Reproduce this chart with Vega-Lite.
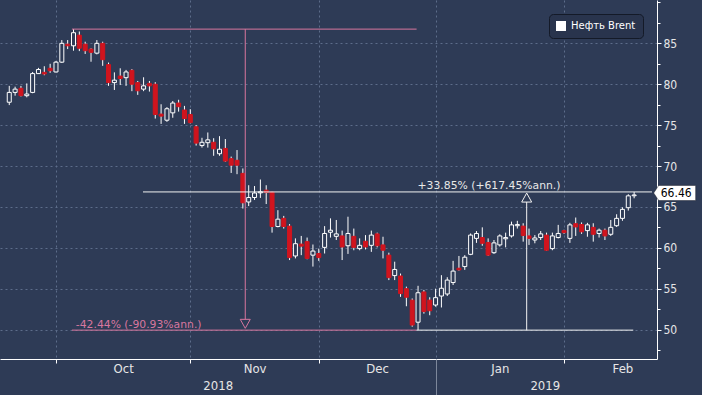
{
  "$schema": "https://vega.github.io/schema/vega-lite/v6.json",
  "width": 657,
  "height": 359,
  "padding": {"left": 0, "top": 0, "right": 45, "bottom": 36},
  "autosize": {"type": "none"},
  "background": "#2e3b56",
  "config": {
    "view": {"stroke": null, "fill": "#2e3b56"},
    "legend": {
      "orient": "none", "legendX": 549, "legendY": 14, "fillColor": "#29344d", "strokeColor": "#141a28",
      "cornerRadius": 4, "padding": 7, "symbolType": "square", "symbolSize": 100,
      "symbolFillColor": "#ffffff", "symbolStrokeColor": "#ffffff", "symbolStrokeWidth": 0,
      "labelColor": "#ffffff", "labelFont": "DejaVu Sans", "labelFontSize": 10, "labelOffset": 5
    }
  },
  "resolve": {"axis": {"x": "independent", "y": "independent"}},
  "datasets": {
    "candles": [
      {"i":0,"o":77.8,"h":79.8,"l":77.45,"c":79.0},
      {"i":1,"o":79.0,"h":79.7,"l":78.6,"c":79.4},
      {"i":2,"o":79.5,"h":79.8,"l":78.5,"c":78.6},
      {"i":3,"o":78.6,"h":80.1,"l":78.4,"c":78.8},
      {"i":4,"o":79.0,"h":81.5,"l":78.9,"c":81.3},
      {"i":5,"o":81.3,"h":82.0,"l":81.25,"c":81.8},
      {"i":6,"o":81.45,"h":82.2,"l":81.1,"c":81.25},
      {"i":7,"o":81.95,"h":82.5,"l":81.4,"c":81.65},
      {"i":8,"o":81.5,"h":82.85,"l":81.45,"c":82.7},
      {"i":9,"o":82.7,"h":85.4,"l":82.6,"c":85.0},
      {"i":10,"o":84.9,"h":85.4,"l":84.3,"c":84.7},
      {"i":11,"o":84.7,"h":86.74,"l":84.1,"c":86.3},
      {"i":12,"o":86.0,"h":86.45,"l":84.05,"c":84.4},
      {"i":13,"o":84.9,"h":85.2,"l":83.7,"c":84.1},
      {"i":14,"o":84.3,"h":84.4,"l":82.75,"c":83.9},
      {"i":15,"o":83.8,"h":85.4,"l":83.65,"c":85.0},
      {"i":16,"o":85.0,"h":85.2,"l":82.25,"c":83.0},
      {"i":17,"o":82.4,"h":82.65,"l":79.8,"c":80.2},
      {"i":18,"o":80.2,"h":81.45,"l":79.3,"c":80.5},
      {"i":19,"o":81.0,"h":81.95,"l":79.9,"c":80.7},
      {"i":20,"o":80.8,"h":81.75,"l":79.8,"c":81.5},
      {"i":21,"o":81.7,"h":81.85,"l":79.15,"c":80.0},
      {"i":22,"o":80.2,"h":80.4,"l":78.7,"c":79.2},
      {"i":23,"o":79.4,"h":80.85,"l":79.15,"c":79.8},
      {"i":24,"o":80.1,"h":80.4,"l":79.1,"c":79.8},
      {"i":25,"o":80.0,"h":80.25,"l":75.8,"c":76.3},
      {"i":26,"o":76.35,"h":77.55,"l":75.15,"c":76.1},
      {"i":27,"o":75.6,"h":77.2,"l":75.4,"c":77.0},
      {"i":28,"o":76.5,"h":77.95,"l":75.9,"c":77.7},
      {"i":29,"o":77.7,"h":78.1,"l":76.65,"c":77.25},
      {"i":30,"o":76.85,"h":77.35,"l":75.15,"c":75.8},
      {"i":31,"o":76.3,"h":76.95,"l":75.2,"c":75.3},
      {"i":32,"o":74.8,"h":75.0,"l":72.5,"c":72.8},
      {"i":33,"o":72.5,"h":73.45,"l":72.25,"c":72.9},
      {"i":34,"o":72.85,"h":74.1,"l":72.25,"c":73.2},
      {"i":35,"o":72.9,"h":73.4,"l":71.25,"c":72.1},
      {"i":36,"o":71.5,"h":73.65,"l":71.25,"c":72.05},
      {"i":37,"o":72.15,"h":73.3,"l":70.5,"c":70.6},
      {"i":38,"o":70.9,"h":71.15,"l":69.15,"c":70.1},
      {"i":39,"o":70.7,"h":71.95,"l":69.0,"c":70.1},
      {"i":40,"o":69.1,"h":69.7,"l":64.8,"c":65.5},
      {"i":41,"o":65.6,"h":67.65,"l":65.1,"c":66.15},
      {"i":42,"o":66.15,"h":67.55,"l":65.85,"c":66.7},
      {"i":43,"o":66.72,"h":68.35,"l":66.1,"c":66.85},
      {"i":44,"o":67.05,"h":67.65,"l":65.35,"c":66.75},
      {"i":45,"o":66.8,"h":66.85,"l":61.85,"c":62.6},
      {"i":46,"o":62.6,"h":64.6,"l":62.5,"c":63.5},
      {"i":47,"o":63.6,"h":63.9,"l":62.35,"c":62.6},
      {"i":48,"o":62.65,"h":62.9,"l":58.5,"c":58.8},
      {"i":49,"o":59.0,"h":61.15,"l":58.7,"c":60.5},
      {"i":50,"o":60.45,"h":61.45,"l":59.1,"c":60.2},
      {"i":51,"o":60.75,"h":61.25,"l":58.6,"c":58.7},
      {"i":52,"o":59.1,"h":60.4,"l":57.7,"c":59.6},
      {"i":53,"o":59.3,"h":59.9,"l":58.4,"c":58.8},
      {"i":54,"o":60.05,"h":62.65,"l":59.3,"c":61.75},
      {"i":55,"o":61.9,"h":63.6,"l":61.25,"c":62.15},
      {"i":56,"o":61.4,"h":63.4,"l":60.95,"c":61.7},
      {"i":57,"o":61.45,"h":62.1,"l":58.5,"c":60.1},
      {"i":58,"o":60.25,"h":63.8,"l":59.25,"c":61.75},
      {"i":59,"o":61.4,"h":62.35,"l":59.7,"c":60.05},
      {"i":60,"o":59.9,"h":61.15,"l":59.7,"c":60.3},
      {"i":61,"o":60.8,"h":61.55,"l":59.8,"c":60.1},
      {"i":62,"o":60.3,"h":62.1,"l":59.5,"c":61.55},
      {"i":63,"o":61.7,"h":61.85,"l":60.05,"c":60.25},
      {"i":64,"o":60.35,"h":61.35,"l":58.7,"c":59.7},
      {"i":65,"o":59.1,"h":59.4,"l":56.05,"c":56.35},
      {"i":66,"o":56.6,"h":58.3,"l":56.05,"c":57.35},
      {"i":67,"o":56.55,"h":56.85,"l":54.0,"c":54.4},
      {"i":68,"o":55.0,"h":55.25,"l":52.85,"c":53.95},
      {"i":69,"o":53.6,"h":53.8,"l":50.35,"c":50.55},
      {"i":70,"o":50.9,"h":55.35,"l":49.93,"c":54.5},
      {"i":71,"o":54.6,"h":54.85,"l":51.95,"c":52.2},
      {"i":72,"o":53.6,"h":53.95,"l":51.75,"c":52.3},
      {"i":73,"o":53.0,"h":55.0,"l":52.8,"c":53.9},
      {"i":74,"o":54.1,"h":56.65,"l":52.7,"c":55.05},
      {"i":75,"o":54.35,"h":56.4,"l":54.1,"c":56.05},
      {"i":76,"o":55.75,"h":58.4,"l":55.45,"c":57.15},
      {"i":77,"o":57.5,"h":59.0,"l":57.2,"c":57.3},
      {"i":78,"o":57.7,"h":59.1,"l":57.3,"c":58.85},
      {"i":79,"o":59.2,"h":61.75,"l":59.1,"c":61.55},
      {"i":80,"o":61.15,"h":62.05,"l":60.6,"c":61.75},
      {"i":81,"o":61.25,"h":62.5,"l":60.25,"c":60.55},
      {"i":82,"o":60.65,"h":61.15,"l":59.0,"c":59.1},
      {"i":83,"o":59.4,"h":60.95,"l":59.25,"c":60.6},
      {"i":84,"o":60.35,"h":61.65,"l":60.15,"c":61.45},
      {"i":85,"o":61.1,"h":61.85,"l":60.05,"c":61.25},
      {"i":86,"o":61.45,"h":63.2,"l":61.25,"c":62.8},
      {"i":87,"o":62.7,"h":63.3,"l":62.35,"c":62.85},
      {"i":88,"o":62.65,"h":63.0,"l":60.75,"c":61.5},
      {"i":89,"o":61.45,"h":62.35,"l":60.35,"c":61.15},
      {"i":90,"o":60.95,"h":61.55,"l":60.55,"c":61.2},
      {"i":91,"o":61.25,"h":62.05,"l":60.95,"c":61.7},
      {"i":92,"o":61.55,"h":61.85,"l":59.65,"c":59.7},
      {"i":93,"o":59.9,"h":61.85,"l":59.7,"c":61.45},
      {"i":94,"o":61.25,"h":62.8,"l":61.15,"c":61.75},
      {"i":95,"o":62.1,"h":62.2,"l":61.7,"c":61.85},
      {"i":96,"o":61.15,"h":63.05,"l":60.6,"c":62.8},
      {"i":97,"o":62.95,"h":63.7,"l":61.45,"c":62.55},
      {"i":98,"o":62.85,"h":63.1,"l":61.7,"c":61.95},
      {"i":99,"o":62.1,"h":63.05,"l":61.35,"c":62.8},
      {"i":100,"o":62.5,"h":63.0,"l":60.75,"c":61.65},
      {"i":101,"o":61.75,"h":62.35,"l":61.25,"c":62.15},
      {"i":102,"o":62.15,"h":62.35,"l":60.95,"c":61.45},
      {"i":103,"o":61.65,"h":63.4,"l":61.45,"c":62.5},
      {"i":104,"o":62.7,"h":64.1,"l":62.55,"c":63.6},
      {"i":105,"o":63.6,"h":64.95,"l":63.3,"c":64.7},
      {"i":106,"o":64.9,"h":66.55,"l":64.55,"c":66.35},
      {"i":107,"o":66.36,"h":66.83,"l":66.05,"c":66.46}
    ],
    "pinkLines": [
      {"i":10.73,"i2":69.75,"v":86.74,"v2":86.74},
      {"i":10.73,"i2":69.75,"v":49.93,"v2":49.93},
      {"i":40.41,"i2":40.41,"v":86.74,"v2":50.7}
    ],
    "whiteLines": [
      {"i":22.9,"i2":110.06,"v":66.83,"v2":66.83},
      {"i":69.75,"i2":106.85,"v":49.93,"v2":49.93},
      {"i":88.6,"i2":88.6,"v":49.93,"v2":66.14}
    ],
    "pinkArrow": [{"i":40.41,"v":50.7}],
    "whiteArrow": [{"i":88.6,"v":66.14}],
    "pinkText": [{"i":11.4,"v":50.25,"t":"-42.44% (-90.93%ann.)"}],
    "whiteText": [{"i":82.15,"v":67.18,"t":"+33.85% (+617.45%ann.)"}],
    "lastBox": [{"i":113.94,"v":66.7}],
    "lastText": [{"i":114.2,"v":66.7,"t":"66.46"}]
  },
  "layer": [
    {
      "data": {"name": "candles"},
      "mark": {"type": "rule", "strokeWidth": 1},
      "encoding": {
        "x": {
          "field": "i", "type": "quantitative", "title": null,
          "scale": {"domain": [-0.73, 110.06], "nice": false, "zero": false},
          "axis": {
            "orient": "bottom", "title": null, "values": [8, 31, 53, 95], "labels": false,
            "domainColor": "#ffffff", "domainWidth": 1, "tickColor": "#ffffff", "tickSize": 4,
            "grid": true, "gridColor": "#5d6d8a", "gridDash": [2, 3]
          }
        },
        "y": {
          "field": "l", "type": "quantitative", "title": null,
          "scale": {"domain": [46.4, 90.3], "nice": false, "zero": false},
          "axis": {
            "orient": "right", "title": null, "values": [50, 55, 60, 65, 70, 75, 80, 85],
            "labelOverlap": false, "labelColor": "#e6e6e6", "labelFont": "DejaVu Sans Condensed, Roboto, sans-serif", "labelFontSize": 12,
            "labelPadding": 2, "domainColor": "#ffffff", "domainWidth": 1, "tickColor": "#ffffff", "tickSize": 4,
            "grid": true, "gridColor": "#5d6d8a", "gridDash": [2, 3]
          }
        },
        "y2": {"field": "h"},
        "color": {"datum": "Нефть Brent", "scale": {"range": ["#ffffff"]}, "legend": {"title": null}}
      }
    },
    {
      "data": {"name": "candles"},
      "mark": {"type": "bar", "width": 4, "strokeWidth": 1},
      "encoding": {
        "x": {
          "field": "i", "type": "quantitative", "title": null,
          "axis": {
            "orient": "bottom", "title": null, "values": [19.5, 35.7, 42, 63, 84, 91.7, 105],
            "labelExpr": "datum.value === 19.5 ? 'Oct' : datum.value === 42 ? 'Nov' : datum.value === 63 ? 'Dec' : datum.value === 84 ? 'Jan' : datum.value === 105 ? 'Feb' : datum.value === 35.7 ? ['', '2018'] : ['', '2019']",
            "labelFlush": false, "labelOverlap": false, "labelAlign": "center", "labelBaseline": "top",
            "labelColor": "#e6e6e6", "labelFont": "DejaVu Sans Condensed, Roboto, sans-serif", "labelFontSize": 13, "labelLineHeight": 17,
            "labelPadding": 3, "ticks": false, "domain": false, "grid": false
          }
        },
        "y": {
          "field": "o", "type": "quantitative", "title": null,
          "axis": {
            "orient": "right", "title": null, "values": [47.5, 52.5, 57.5, 62.5, 67.5, 72.5, 77.5, 82.5, 87.5, 90],
            "labels": false, "domain": false, "grid": false, "tickColor": "#ffffff", "tickSize": 3
          }
        },
        "y2": {"field": "c"},
        "fill": {"condition": {"test": "datum.c >= datum.o", "value": "#2e3b56"}, "value": "#d0141e"},
        "stroke": {"condition": {"test": "datum.c >= datum.o", "value": "#ffffff"}, "value": "#d0141e"}
      }
    },
    {
      "data": {"name": "pinkLines"},
      "mark": {"type": "rule", "color": "#d9779f", "strokeWidth": 1},
      "encoding": {
        "x": {
          "field": "i", "type": "quantitative", "title": null,
          "axis": {
            "orient": "bottom", "title": null, "values": [73], "labels": false, "domain": false,
            "tickColor": "#7d879b", "tickSize": 36,
            "grid": true, "gridColor": "#5d6d8a", "gridDash": [2, 3]
          }
        },
        "x2": {"field": "i2"},
        "y": {"field": "v", "type": "quantitative", "title": null, "axis": null},
        "y2": {"field": "v2"}
      }
    },
    {
      "data": {"name": "whiteLines"},
      "mark": {"type": "rule", "color": "#f2f2f2", "strokeWidth": 1},
      "encoding": {
        "x": {"field": "i", "type": "quantitative", "title": null, "axis": null},
        "x2": {"field": "i2"},
        "y": {"field": "v", "type": "quantitative", "title": null, "axis": null},
        "y2": {"field": "v2"}
      }
    },
    {
      "data": {"name": "pinkArrow"},
      "mark": {"type": "point", "shape": "M-1,-0.9L1,-0.9L0,0.9Z", "size": 100, "filled": true, "fill": "#2e3b56", "stroke": "#d9779f", "strokeWidth": 1, "opacity": 1},
      "encoding": {
        "x": {"field": "i", "type": "quantitative", "title": null, "axis": null},
        "y": {"field": "v", "type": "quantitative", "title": null, "axis": null}
      }
    },
    {
      "data": {"name": "whiteArrow"},
      "mark": {"type": "point", "shape": "M-1,0.9L1,0.9L0,-0.9Z", "size": 100, "filled": true, "fill": "#2e3b56", "stroke": "#f2f2f2", "strokeWidth": 1, "opacity": 1},
      "encoding": {
        "x": {"field": "i", "type": "quantitative", "title": null, "axis": null},
        "y": {"field": "v", "type": "quantitative", "title": null, "axis": null}
      }
    },
    {
      "data": {"name": "pinkText"},
      "mark": {"type": "text", "align": "left", "baseline": "alphabetic", "font": "DejaVu Sans", "fontSize": 10.8, "color": "#d9779f"},
      "encoding": {
        "x": {"field": "i", "type": "quantitative", "title": null, "axis": null},
        "y": {"field": "v", "type": "quantitative", "title": null, "axis": null},
        "text": {"field": "t"}
      }
    },
    {
      "data": {"name": "whiteText"},
      "mark": {"type": "text", "align": "center", "baseline": "alphabetic", "font": "DejaVu Sans", "fontSize": 10.8, "color": "#e8e8e8"},
      "encoding": {
        "x": {"field": "i", "type": "quantitative", "title": null, "axis": null},
        "y": {"field": "v", "type": "quantitative", "title": null, "axis": null},
        "text": {"field": "t"}
      }
    },
    {
      "data": {"name": "lastBox"},
      "mark": {"type": "point", "shape": "M-1,0L-0.76,-0.36L1,-0.36L1,0.36L-0.76,0.36Z", "size": 1764, "filled": true, "fill": "#ffffff", "stroke": "#1a1f2b", "strokeWidth": 0.5, "opacity": 1},
      "encoding": {
        "x": {"field": "i", "type": "quantitative", "title": null, "axis": null},
        "y": {"field": "v", "type": "quantitative", "title": null, "axis": null}
      }
    },
    {
      "data": {"name": "lastText"},
      "mark": {"type": "text", "align": "center", "baseline": "middle", "font": "DejaVu Sans Condensed, Roboto, sans-serif", "fontSize": 12, "color": "#000000"},
      "encoding": {
        "x": {"field": "i", "type": "quantitative", "title": null, "axis": null},
        "y": {"field": "v", "type": "quantitative", "title": null, "axis": null},
        "text": {"field": "t"}
      }
    }
  ]
}
